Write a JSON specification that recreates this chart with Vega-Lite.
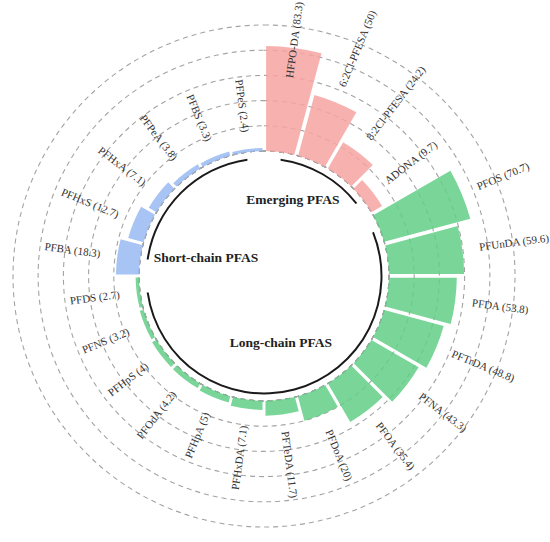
{
  "$schema": "https://vega.github.io/schema/vega-lite/v6.json",
  "description": "Circular bar chart of PFAS detection frequency by group",
  "width": 528,
  "height": 552,
  "padding": {"left": 0, "top": 0, "right": 22, "bottom": 0},
  "autosize": {"type": "none"},
  "background": "white",
  "config": {"view": {"stroke": null}, "text": {"font": "Liberation Serif"}},
  "datasets": {
    "pfas": [
      {"order": 1, "name": "HFPO-DA", "value": 83.3, "group": "Emerging PFAS"},
      {"order": 2, "name": "6:2Cl-PFESA", "value": 50, "group": "Emerging PFAS"},
      {"order": 3, "name": "8:2Cl-PFESA", "value": 24.2, "group": "Emerging PFAS"},
      {"order": 4, "name": "ADONA", "value": 9.7, "group": "Emerging PFAS"},
      {"order": 5, "name": "PFOS", "value": 70.7, "group": "Long-chain PFAS"},
      {"order": 6, "name": "PFUnDA", "value": 59.6, "group": "Long-chain PFAS"},
      {"order": 7, "name": "PFDA", "value": 53.8, "group": "Long-chain PFAS"},
      {"order": 8, "name": "PFTrDA", "value": 48.8, "group": "Long-chain PFAS"},
      {"order": 9, "name": "PFNA", "value": 43.3, "group": "Long-chain PFAS"},
      {"order": 10, "name": "PFOA", "value": 35.4, "group": "Long-chain PFAS"},
      {"order": 11, "name": "PFDoA", "value": 20, "group": "Long-chain PFAS"},
      {"order": 12, "name": "PFTeDA", "value": 11.7, "group": "Long-chain PFAS"},
      {"order": 13, "name": "PFHxDA", "value": 7.1, "group": "Long-chain PFAS"},
      {"order": 14, "name": "PFHpA", "value": 5, "group": "Long-chain PFAS"},
      {"order": 15, "name": "PFOdA", "value": 4.2, "group": "Long-chain PFAS"},
      {"order": 16, "name": "PFHpS", "value": 4, "group": "Long-chain PFAS"},
      {"order": 17, "name": "PFNS", "value": 3.2, "group": "Long-chain PFAS"},
      {"order": 18, "name": "PFDS", "value": 2.7, "group": "Long-chain PFAS"},
      {"order": 19, "name": "PFBA", "value": 18.3, "group": "Short-chain PFAS"},
      {"order": 20, "name": "PFHxS", "value": 12.7, "group": "Short-chain PFAS"},
      {"order": 21, "name": "PFHxA", "value": 7.1, "group": "Short-chain PFAS"},
      {"order": 22, "name": "PFPeA", "value": 3.8, "group": "Short-chain PFAS"},
      {"order": 23, "name": "PFBS", "value": 3.3, "group": "Short-chain PFAS"},
      {"order": 24, "name": "PFPeS", "value": 2.4, "group": "Short-chain PFAS"}
    ],
    "rings": [{"level": 20}, {"level": 40}, {"level": 60}, {"level": 80}, {"level": 100}]
  },
  "data": {"name": "pfas"},
  "layer": [
    {
      "data": {"name": "rings"},
      "mark": {"type": "arc", "fillOpacity": 0, "stroke": "#a3a3a3", "strokeWidth": 1.1, "strokeDash": [5, 4]},
      "encoding": {
        "theta": {"value": 0},
        "theta2": {"value": 6.2832},
        "radius": {"field": "level", "type": "quantitative", "stack": null, "scale": {"type": "linear", "domain": [0, 100], "range": [125, 251]}}
      }
    },
    {
      "transform": [
        {"calculate": "datum.order - 1", "as": "start"}
      ],
      "mark": {"type": "arc", "padAngle": 0.016, "fillOpacity": 0.85},
      "encoding": {
        "theta": {"field": "start", "type": "quantitative", "stack": null, "scale": {"domain": [0, 24]}},
        "theta2": {"field": "order"},
        "radius": {"field": "value", "type": "quantitative", "stack": null, "scale": {"type": "linear", "domain": [0, 100], "range": [125, 251]}},
        "radius2": {"value": 125},
        "color": {
          "field": "group",
          "type": "nominal",
          "scale": {"domain": ["Emerging PFAS", "Long-chain PFAS", "Short-chain PFAS"], "range": ["#f6a4a2", "#61ce86", "#99baf2"]},
          "legend": null
        }
      }
    },
    {
      "transform": [
        {"aggregate": [{"op": "min", "field": "order", "as": "first"}, {"op": "max", "field": "order", "as": "last"}], "groupby": ["group"]},
        {"calculate": "datum.first - 1", "as": "gstart"}
      ],
      "mark": {"type": "arc", "padAngle": 0.2, "fill": "#1a1a1a"},
      "encoding": {
        "theta": {"field": "gstart", "type": "quantitative", "stack": null, "scale": {"domain": [0, 24]}},
        "theta2": {"field": "last"},
        "radius": {"value": 118.5},
        "radius2": {"value": 116.5}
      }
    },
    {
      "transform": [
        {"filter": "datum.order <= 12"},
        {"calculate": "datum.order - 0.5", "as": "mid"},
        {"calculate": "(datum.order - 0.5) * 15 - 90", "as": "rot"},
        {"calculate": "datum.name == 'HFPO-DA' ? 46 : datum.value", "as": "lr"},
        {"calculate": "datum.name + ' (' + datum.value + ')'", "as": "label"}
      ],
      "mark": {"type": "text", "align": "left", "baseline": "middle", "radiusOffset": 17, "fontSize": 11, "fill": "#333333"},
      "encoding": {
        "theta": {"field": "mid", "type": "quantitative", "stack": null, "scale": {"domain": [0, 24]}},
        "radius": {"field": "lr", "type": "quantitative", "stack": null, "scale": {"type": "linear", "domain": [0, 100], "range": [125, 251]}},
        "angle": {"field": "rot", "type": "quantitative", "scale": null},
        "text": {"field": "label"}
      }
    },
    {
      "transform": [
        {"filter": "datum.order > 12"},
        {"calculate": "datum.order - 0.5", "as": "mid"},
        {"calculate": "(datum.order - 0.5) * 15 - 270", "as": "rot"},
        {"calculate": "datum.name + ' (' + datum.value + ')'", "as": "label"}
      ],
      "mark": {"type": "text", "align": "right", "baseline": "middle", "radiusOffset": 17, "fontSize": 11, "fill": "#333333"},
      "encoding": {
        "theta": {"field": "mid", "type": "quantitative", "stack": null, "scale": {"domain": [0, 24]}},
        "radius": {"field": "value", "type": "quantitative", "stack": null, "scale": {"type": "linear", "domain": [0, 100], "range": [125, 251]}},
        "angle": {"field": "rot", "type": "quantitative", "scale": null},
        "text": {"field": "label"}
      }
    },
    {
      "transform": [
        {"aggregate": [{"op": "count", "as": "n"}], "groupby": ["group"]},
        {"calculate": "datum.group == 'Emerging PFAS' ? 1.39 : datum.group == 'Long-chain PFAS' ? 11.06 : 19.15", "as": "gt"},
        {"calculate": "datum.group == 'Emerging PFAS' ? -34.9 : datum.group == 'Long-chain PFAS' ? -44.4 : -51", "as": "gr"}
      ],
      "mark": {"type": "text", "align": "center", "baseline": "middle", "fontSize": 13.5, "fontWeight": "bold", "fill": "#222222"},
      "encoding": {
        "theta": {"field": "gt", "type": "quantitative", "stack": null, "scale": {"domain": [0, 24]}},
        "radius": {"field": "gr", "type": "quantitative", "stack": null, "scale": {"type": "linear", "domain": [0, 100], "range": [125, 251]}},
        "text": {"field": "group"}
      }
    }
  ]
}
